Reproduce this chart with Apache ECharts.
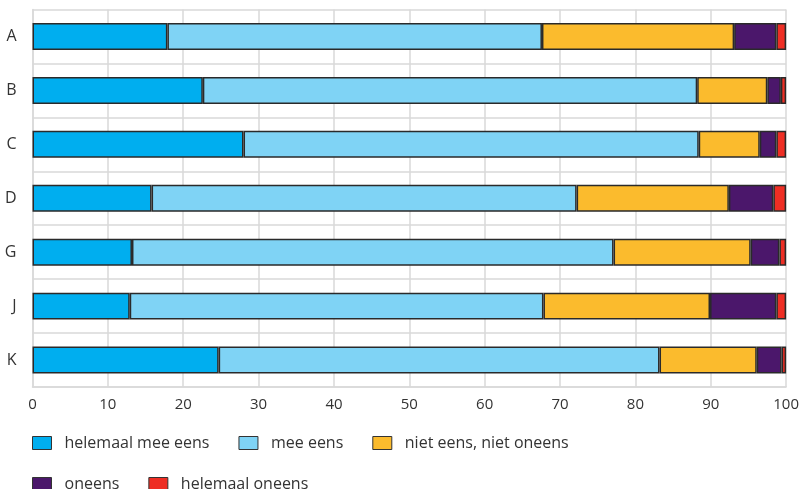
<!DOCTYPE html>
<html><head><meta charset="utf-8">
<script src="https://cdn.jsdelivr.net/npm/echarts@6/dist/echarts.min.js"></script>
<style>html,body{margin:0;padding:0;background:#fff}#c{width:802px;height:489px}</style>
</head><body><div id="c"></div>
<script>
const categories = ['A','B','C','D','G','J','K'];
const seriesNames = ['helemaal mee eens','mee eens','niet eens, niet oneens','oneens','helemaal oneens'];
const helemaalMeeEens = [17.9, 22.6, 28.0, 15.8, 13.2, 12.9, 24.7];
const meeEens         = [49.7, 65.6, 60.4, 56.4, 63.9, 54.9, 58.5];
const nietEensNiet    = [25.5,  9.3,  8.1, 20.2, 18.2, 22.1, 12.9];
const oneens          = [ 5.6,  1.8,  2.2,  5.9,  3.8,  8.8,  3.3];
const helemaalOneens  = [ 1.3,  0.7,  1.3,  1.7,  0.9,  1.3,  0.6];
const xTicks = [0,10,20,30,40,50,60,70,80,90,100];

const colors = ['#00aeef','#7fd3f5','#fbbb2d','#4b176b','#ee2e24'];
const values = [helemaalMeeEens, meeEens, nietEensNiet, oneens, helemaalOneens];
const font = '"Open Sans", "Noto Sans", sans-serif';
const gridColor = '#d9d9d9';

const chart = echarts.init(document.getElementById('c'), null, {renderer:'canvas'});
const legendCommon = {
  left: 32, padding: 0, itemWidth: 19, itemHeight: 13, icon: 'rect',
  textStyle: {fontFamily: font, fontSize: 16, color: '#333', padding: [0,0,0,8]},
  itemStyle: {borderColor: '#333', borderWidth: 1}
};
chart.setOption({
  animation: false,
  grid: {left: 32.5, right: 12, top: 9.5, bottom: 102, containLabel: false},
  legend: [
    Object.assign({}, legendCommon, {top: 435, itemGap: 29, data: seriesNames.slice(0,3)}),
    Object.assign({}, legendCommon, {top: 476, itemGap: 29, data: seriesNames.slice(3)})
  ],
  xAxis: {
    type: 'value', min: 0, max: 100, interval: 10,
    axisLine: {show: true, lineStyle: {color: gridColor, width: 1.5}},
    axisTick: {show: false},
    splitLine: {show: true, lineStyle: {color: gridColor, width: 1.5}},
    axisLabel: {fontFamily: font, fontSize: 15, color: '#333', margin: 10,
      formatter: v => xTicks.includes(v) ? String(v) : ''}
  },
  yAxis: {
    type: 'category', data: categories, inverse: true,
    axisLine: {show: true, lineStyle: {color: gridColor, width: 1.5}},
    axisTick: {show: false},
    splitLine: {show: true, lineStyle: {color: gridColor, width: 1.5}},
    axisLabel: {fontFamily: font, fontSize: 16, color: '#333', margin: 16}
  },
  series: seriesNames.map((n, i) => ({
    name: n, type: 'bar', stack: 'total', barWidth: '50%',
    data: values[i],
    itemStyle: {color: colors[i], borderColor: '#2a2a2a', borderWidth: 1.5}
  }))
});
</script></body></html>
